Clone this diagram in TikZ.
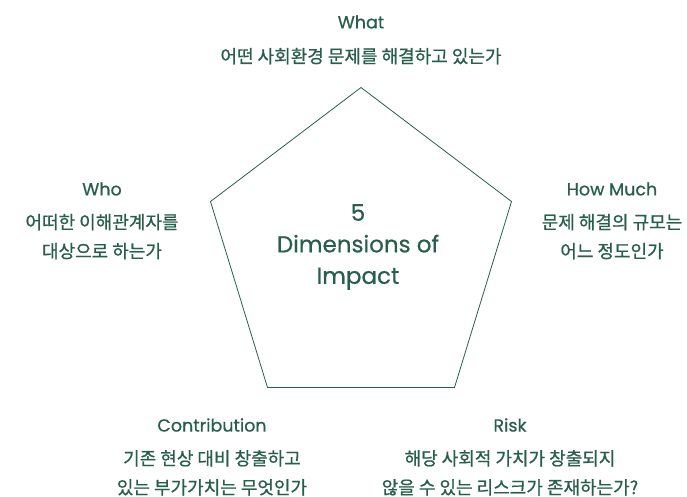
\documentclass[tikz,border=0pt]{standalone}
\usepackage{fontspec}
\usepackage{xcolor}
\usetikzlibrary{positioning}
\setmainfont{Poppins}[FakeBold=0.6]
\newfontfamily\kofont{Noto Sans CJK KR}[FakeBold=0.8]
\definecolor{impgreen}{RGB}{40,94,76}

\begin{document}
\begin{tikzpicture}[x=1pt,y=-1pt]
\tikzstyle{every node}+=[inner sep=0pt,text=impgreen]
\tikzstyle{dimtitle}=[font=\fontsize{17.5}{20}\selectfont]
\tikzstyle{dimtext}=[font=\kofont\fontsize{18}{29}\selectfont,align=center]
\useasboundingbox (0,0) rectangle (687,497);
% pentagon corners
\coordinate (top) at (361,87.5);
\coordinate (rgt) at (511.5,201.5);
\coordinate (brt) at (454.5,387.5);
\coordinate (blt) at (267.5,387.5);
\coordinate (lft) at (210.5,201.5);
\draw [impgreen,line width=0.8pt,line join=miter] (top) -- (rgt) -- (brt) -- (blt) -- (lft) -- cycle;
\node (center) at (358,247) [align=center,font=\fontsize{23}{31.5}\selectfont] {5\\Dimensions of\\Impact};
% What
\node [dimtitle] (what) at (361,22) {What};
\node [dimtext,below=19pt of what] (whattxt) {어떤 사회환경 문제를 해결하고 있는가};
% Who
\node [dimtitle] (who) at (102,189) {Who};
\node [dimtext,below=18pt of who] (whotxt) {어떠한 이해관계자를\\대상으로 하는가};
% How Much
\node [dimtitle] (howmuch) at (612,189) {How Much};
\node [dimtext,below=18pt of howmuch] (howmuchtxt) {문제 해결의 규모는\\어느 정도인가};
% Contribution
\node [dimtitle] (contrib) at (212,425) {Contribution};
\node [dimtext,below=18pt of contrib] (contribtxt) {기존 현상 대비 창출하고\\있는 부가가치는 무엇인가};
% Risk
\node [dimtitle] (risk) at (510,425) {Risk};
\node [dimtext,below=18pt of risk] (risktxt) {해당 사회적 가치가 창출되지\\않을 수 있는 리스크가 존재하는가?};
\end{tikzpicture}
\end{document}
